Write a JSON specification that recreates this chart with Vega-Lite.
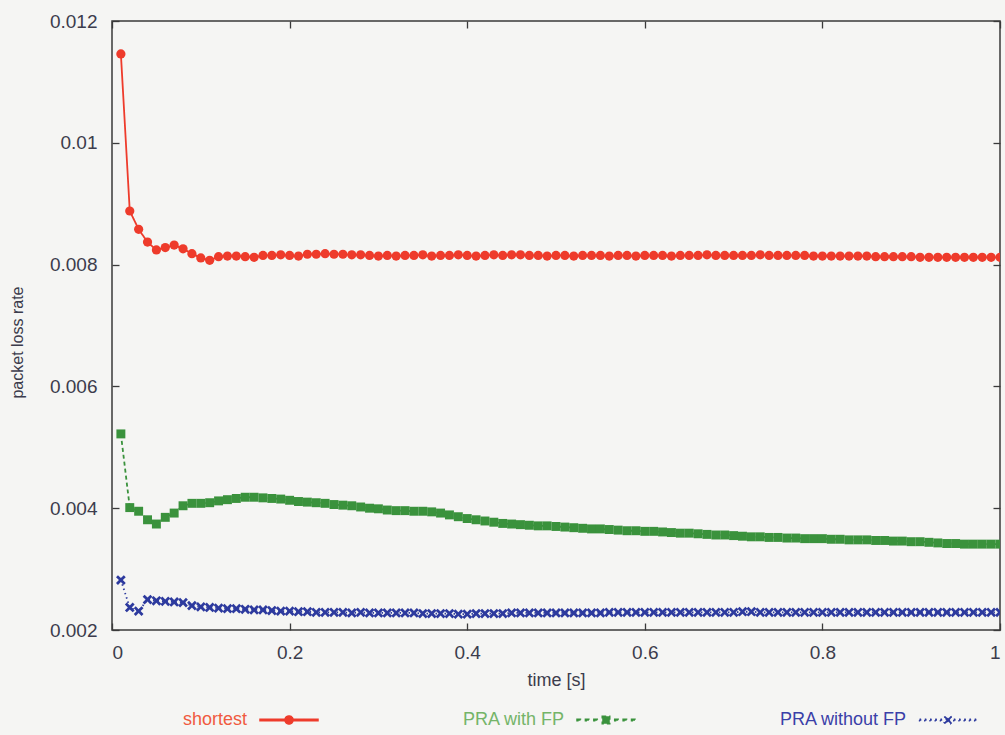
{
  "$schema": "https://vega.github.io/schema/vega-lite/v6.json",
  "width": 888,
  "height": 609,
  "autosize": {"type": "none"},
  "padding": {"left": 112, "top": 21, "right": 5, "bottom": 105},
  "background": "#f5f5f3",
  "config": {
    "view": {"stroke": "#3a3a3a", "strokeWidth": 1.5},
    "font": "Liberation Sans",
    "axis": {"grid": false, "domain": false, "tickColor": "#3a3a3a", "tickWidth": 1.3, "tickSize": -7, "labelColor": "#3c3c4c", "titleColor": "#3c3c4c", "labelFont": "Liberation Sans", "titleFont": "Liberation Sans", "titleFontWeight": "normal"}
  },
  "data": {
    "values": [
      {"t":0.01,"shortest":0.01146,"PRA with FP":0.00522,"PRA without FP":0.00282},
      {"t":0.02,"shortest":0.00888,"PRA with FP":0.00401,"PRA without FP":0.00237},
      {"t":0.03,"shortest":0.00858,"PRA with FP":0.00395,"PRA without FP":0.00231},
      {"t":0.04,"shortest":0.00837,"PRA with FP":0.00381,"PRA without FP":0.00250},
      {"t":0.05,"shortest":0.00824,"PRA with FP":0.00374,"PRA without FP":0.00248},
      {"t":0.06,"shortest":0.00828,"PRA with FP":0.00385,"PRA without FP":0.00247},
      {"t":0.07,"shortest":0.00832,"PRA with FP":0.00392,"PRA without FP":0.00246},
      {"t":0.08,"shortest":0.00826,"PRA with FP":0.00404,"PRA without FP":0.00245},
      {"t":0.09,"shortest":0.00818,"PRA with FP":0.00408,"PRA without FP":0.00240},
      {"t":0.10,"shortest":0.00811,"PRA with FP":0.00408,"PRA without FP":0.00238},
      {"t":0.11,"shortest":0.00807,"PRA with FP":0.00409,"PRA without FP":0.00237},
      {"t":0.12,"shortest":0.00813,"PRA with FP":0.00412,"PRA without FP":0.00236},
      {"t":0.13,"shortest":0.00814,"PRA with FP":0.00414,"PRA without FP":0.00235},
      {"t":0.14,"shortest":0.00814,"PRA with FP":0.00416,"PRA without FP":0.00235},
      {"t":0.15,"shortest":0.00813,"PRA with FP":0.00418,"PRA without FP":0.00234},
      {"t":0.16,"shortest":0.00812,"PRA with FP":0.00418,"PRA without FP":0.00233},
      {"t":0.17,"shortest":0.00815,"PRA with FP":0.00417,"PRA without FP":0.00233},
      {"t":0.18,"shortest":0.00815,"PRA with FP":0.00416,"PRA without FP":0.00232},
      {"t":0.19,"shortest":0.00816,"PRA with FP":0.00415,"PRA without FP":0.00231},
      {"t":0.20,"shortest":0.00815,"PRA with FP":0.00413,"PRA without FP":0.00231},
      {"t":0.21,"shortest":0.00814,"PRA with FP":0.00411,"PRA without FP":0.00230},
      {"t":0.22,"shortest":0.00817,"PRA with FP":0.00410,"PRA without FP":0.00230},
      {"t":0.23,"shortest":0.00817,"PRA with FP":0.00409,"PRA without FP":0.00229},
      {"t":0.24,"shortest":0.00818,"PRA with FP":0.00408,"PRA without FP":0.00229},
      {"t":0.25,"shortest":0.00817,"PRA with FP":0.00406,"PRA without FP":0.00229},
      {"t":0.26,"shortest":0.00817,"PRA with FP":0.00405,"PRA without FP":0.00229},
      {"t":0.27,"shortest":0.00816,"PRA with FP":0.00404,"PRA without FP":0.00228},
      {"t":0.28,"shortest":0.00816,"PRA with FP":0.00402,"PRA without FP":0.00229},
      {"t":0.29,"shortest":0.00815,"PRA with FP":0.00400,"PRA without FP":0.00228},
      {"t":0.30,"shortest":0.00814,"PRA with FP":0.00399,"PRA without FP":0.00228},
      {"t":0.31,"shortest":0.00815,"PRA with FP":0.00397,"PRA without FP":0.00228},
      {"t":0.32,"shortest":0.00814,"PRA with FP":0.00396,"PRA without FP":0.00228},
      {"t":0.33,"shortest":0.00815,"PRA with FP":0.00396,"PRA without FP":0.00228},
      {"t":0.34,"shortest":0.00815,"PRA with FP":0.00395,"PRA without FP":0.00228},
      {"t":0.35,"shortest":0.00816,"PRA with FP":0.00395,"PRA without FP":0.00227},
      {"t":0.36,"shortest":0.00814,"PRA with FP":0.00394,"PRA without FP":0.00227},
      {"t":0.37,"shortest":0.00815,"PRA with FP":0.00392,"PRA without FP":0.00227},
      {"t":0.38,"shortest":0.00815,"PRA with FP":0.00389,"PRA without FP":0.00227},
      {"t":0.39,"shortest":0.00816,"PRA with FP":0.00386,"PRA without FP":0.00226},
      {"t":0.40,"shortest":0.00815,"PRA with FP":0.00383,"PRA without FP":0.00226},
      {"t":0.41,"shortest":0.00814,"PRA with FP":0.00381,"PRA without FP":0.00227},
      {"t":0.42,"shortest":0.00815,"PRA with FP":0.00379,"PRA without FP":0.00227},
      {"t":0.43,"shortest":0.00816,"PRA with FP":0.00377,"PRA without FP":0.00227},
      {"t":0.44,"shortest":0.00815,"PRA with FP":0.00375,"PRA without FP":0.00227},
      {"t":0.45,"shortest":0.00816,"PRA with FP":0.00374,"PRA without FP":0.00228},
      {"t":0.46,"shortest":0.00816,"PRA with FP":0.00373,"PRA without FP":0.00228},
      {"t":0.47,"shortest":0.00815,"PRA with FP":0.00372,"PRA without FP":0.00228},
      {"t":0.48,"shortest":0.00815,"PRA with FP":0.00371,"PRA without FP":0.00228},
      {"t":0.49,"shortest":0.00814,"PRA with FP":0.00371,"PRA without FP":0.00228},
      {"t":0.50,"shortest":0.00815,"PRA with FP":0.00370,"PRA without FP":0.00228},
      {"t":0.51,"shortest":0.00815,"PRA with FP":0.00369,"PRA without FP":0.00228},
      {"t":0.52,"shortest":0.00814,"PRA with FP":0.00368,"PRA without FP":0.00228},
      {"t":0.53,"shortest":0.00815,"PRA with FP":0.00367,"PRA without FP":0.00228},
      {"t":0.54,"shortest":0.00815,"PRA with FP":0.00366,"PRA without FP":0.00228},
      {"t":0.55,"shortest":0.00815,"PRA with FP":0.00366,"PRA without FP":0.00228},
      {"t":0.56,"shortest":0.00814,"PRA with FP":0.00365,"PRA without FP":0.00229},
      {"t":0.57,"shortest":0.00815,"PRA with FP":0.00364,"PRA without FP":0.00229},
      {"t":0.58,"shortest":0.00815,"PRA with FP":0.00363,"PRA without FP":0.00229},
      {"t":0.59,"shortest":0.00814,"PRA with FP":0.00363,"PRA without FP":0.00229},
      {"t":0.60,"shortest":0.00815,"PRA with FP":0.00362,"PRA without FP":0.00229},
      {"t":0.61,"shortest":0.00815,"PRA with FP":0.00362,"PRA without FP":0.00229},
      {"t":0.62,"shortest":0.00815,"PRA with FP":0.00361,"PRA without FP":0.00229},
      {"t":0.63,"shortest":0.00814,"PRA with FP":0.00360,"PRA without FP":0.00229},
      {"t":0.64,"shortest":0.00815,"PRA with FP":0.00359,"PRA without FP":0.00229},
      {"t":0.65,"shortest":0.00815,"PRA with FP":0.00359,"PRA without FP":0.00229},
      {"t":0.66,"shortest":0.00815,"PRA with FP":0.00358,"PRA without FP":0.00229},
      {"t":0.67,"shortest":0.00816,"PRA with FP":0.00357,"PRA without FP":0.00229},
      {"t":0.68,"shortest":0.00815,"PRA with FP":0.00356,"PRA without FP":0.00229},
      {"t":0.69,"shortest":0.00815,"PRA with FP":0.00356,"PRA without FP":0.00229},
      {"t":0.70,"shortest":0.00815,"PRA with FP":0.00355,"PRA without FP":0.00229},
      {"t":0.71,"shortest":0.00815,"PRA with FP":0.00354,"PRA without FP":0.00230},
      {"t":0.72,"shortest":0.00815,"PRA with FP":0.00353,"PRA without FP":0.00230},
      {"t":0.73,"shortest":0.00816,"PRA with FP":0.00353,"PRA without FP":0.00229},
      {"t":0.74,"shortest":0.00815,"PRA with FP":0.00352,"PRA without FP":0.00229},
      {"t":0.75,"shortest":0.00815,"PRA with FP":0.00352,"PRA without FP":0.00229},
      {"t":0.76,"shortest":0.00815,"PRA with FP":0.00351,"PRA without FP":0.00229},
      {"t":0.77,"shortest":0.00815,"PRA with FP":0.00351,"PRA without FP":0.00229},
      {"t":0.78,"shortest":0.00815,"PRA with FP":0.00350,"PRA without FP":0.00229},
      {"t":0.79,"shortest":0.00814,"PRA with FP":0.00350,"PRA without FP":0.00229},
      {"t":0.80,"shortest":0.00814,"PRA with FP":0.00350,"PRA without FP":0.00229},
      {"t":0.81,"shortest":0.00814,"PRA with FP":0.00349,"PRA without FP":0.00229},
      {"t":0.82,"shortest":0.00814,"PRA with FP":0.00349,"PRA without FP":0.00229},
      {"t":0.83,"shortest":0.00814,"PRA with FP":0.00348,"PRA without FP":0.00229},
      {"t":0.84,"shortest":0.00814,"PRA with FP":0.00348,"PRA without FP":0.00229},
      {"t":0.85,"shortest":0.00814,"PRA with FP":0.00348,"PRA without FP":0.00229},
      {"t":0.86,"shortest":0.00813,"PRA with FP":0.00347,"PRA without FP":0.00229},
      {"t":0.87,"shortest":0.00813,"PRA with FP":0.00347,"PRA without FP":0.00229},
      {"t":0.88,"shortest":0.00813,"PRA with FP":0.00346,"PRA without FP":0.00229},
      {"t":0.89,"shortest":0.00813,"PRA with FP":0.00346,"PRA without FP":0.00229},
      {"t":0.90,"shortest":0.00813,"PRA with FP":0.00345,"PRA without FP":0.00229},
      {"t":0.91,"shortest":0.00812,"PRA with FP":0.00345,"PRA without FP":0.00229},
      {"t":0.92,"shortest":0.00812,"PRA with FP":0.00344,"PRA without FP":0.00229},
      {"t":0.93,"shortest":0.00812,"PRA with FP":0.00343,"PRA without FP":0.00229},
      {"t":0.94,"shortest":0.00812,"PRA with FP":0.00342,"PRA without FP":0.00229},
      {"t":0.95,"shortest":0.00812,"PRA with FP":0.00342,"PRA without FP":0.00229},
      {"t":0.96,"shortest":0.00812,"PRA with FP":0.00341,"PRA without FP":0.00229},
      {"t":0.97,"shortest":0.00812,"PRA with FP":0.00341,"PRA without FP":0.00229},
      {"t":0.98,"shortest":0.00812,"PRA with FP":0.00341,"PRA without FP":0.00229},
      {"t":0.99,"shortest":0.00812,"PRA with FP":0.00341,"PRA without FP":0.00229},
      {"t":1.00,"shortest":0.00812,"PRA with FP":0.00341,"PRA without FP":0.00229}
    ]
  },
  "transform": [
    {"fold": ["shortest", "PRA with FP", "PRA without FP"], "as": ["series", "rate"]}
  ],
  "layer": [
    {
      "mark": {"type": "line", "strokeWidth": 1.8, "clip": true},
      "encoding": {
        "x": {"field": "t", "type": "quantitative", "scale": {"domain": [0, 1]},
              "axis": {"orient": "bottom", "values": [0, 0.2, 0.4, 0.6, 0.8, 1], "format": ".1~f", "labelFontSize": 19, "labelPadding": 20, "title": "time [s]", "titleFontSize": 18, "titlePadding": 9}},
        "y": {"field": "rate", "type": "quantitative", "scale": {"domain": [0.002, 0.012]},
              "axis": {"orient": "left", "values": [0.002, 0.004, 0.006, 0.008, 0.01, 0.012], "format": ".3~f", "labelFontSize": 19, "labelPadding": 22, "title": "packet loss rate", "titleFontSize": 16, "titlePadding": 24, "titleY": 321}},
        "color": {"field": "series", "type": "nominal",
                  "scale": {"domain": ["shortest", "PRA with FP", "PRA without FP"], "range": ["#ee3b2b", "#3a923c", "#2d3a9e"]},
                  "legend": {
                    "orient": "none", "legendX": 147, "legendY": 669, "direction": "horizontal", "title": null,
                    "columnPadding": 140, "labelFontSize": 18, "labelFont": "Liberation Sans", "labelOffset": -72, "symbolSize": 3364, "labelLimit": 300,
                    "encode": {
                      "labels": {"update": {"align": {"value": "right"}, "fill": {"signal": "datum.value === 'shortest' ? '#f05a40' : datum.value === 'PRA with FP' ? '#74b468' : '#3a40a8'"}}},
                      "symbols": {"update": {
                        "shape": {"signal": "datum.value === 'shortest' ? 'M-1,-0.028H-0.14V0.028H-1ZM0.14,-0.028H1V0.028H0.14ZM-0.14,0A0.14,0.14,0,1,0,0.14,0A0.14,0.14,0,1,0,-0.14,0Z' : datum.value === 'PRA with FP' ? 'M-1,-0.028H-0.88V0.028H-1ZM-0.71,-0.028H-0.59V0.028H-0.71ZM-0.42,-0.028H-0.3V0.028H-0.42ZM0.3,-0.028H0.42V0.028H0.3ZM0.59,-0.028H0.71V0.028H0.59ZM0.88,-0.028H1V0.028H0.88ZM-0.13,-0.13H0.13V0.13H-0.13Z' : 'M-0.98,-0.028H-0.92V0.028H-0.98ZM-0.8,-0.028H-0.74V0.028H-0.8ZM-0.62,-0.028H-0.56V0.028H-0.62ZM-0.44,-0.028H-0.38V0.028H-0.44ZM-0.26,-0.028H-0.2V0.028H-0.26ZM0.2,-0.028H0.26V0.028H0.2ZM0.38,-0.028H0.44V0.028H0.38ZM0.56,-0.028H0.62V0.028H0.56ZM0.74,-0.028H0.8V0.028H0.74ZM0.92,-0.028H0.98V0.028H0.92ZM-0.13,-0.085L-0.085,-0.13L0,-0.045L0.085,-0.13L0.13,-0.085L0.045,0L0.13,0.085L0.085,0.13L0,0.045L-0.085,0.13L-0.13,0.085L-0.045,0Z'"},
                        "fill": {"signal": "datum.value === 'shortest' ? '#ee3b2b' : datum.value === 'PRA with FP' ? '#3a923c' : '#2d3a9e'"},
                        "stroke": {"value": "transparent"},
                        "strokeDash": {"value": []},
                        "size": {"value": 3364},
                        "opacity": {"value": 1}
                      }}
                    }
                  }},
        "strokeDash": {"field": "series", "type": "nominal",
                       "scale": {"domain": ["shortest", "PRA with FP", "PRA without FP"], "range": [[1, 0], [4, 3], [1.5, 3]]},
                       "legend": null}
      }
    },
    {
      "mark": {"type": "point", "filled": true, "opacity": 1, "clip": true,
               "shape": {"expr": "datum.series === 'shortest' ? 'circle' : datum.series === 'PRA with FP' ? 'square' : 'M-1,-0.6L-0.6,-1L0,-0.4L0.6,-1L1,-0.6L0.4,0L1,0.6L0.6,1L0,0.4L-0.6,1L-1,0.6L-0.4,0Z'"},
               "size": {"expr": "datum.series === 'shortest' ? 85 : datum.series === 'PRA with FP' ? 80 : 95"}},
      "encoding": {
        "x": {"field": "t", "type": "quantitative", "scale": {"domain": [0, 1]},
              "axis": {"orient": "top", "values": [0, 0.2, 0.4, 0.6, 0.8, 1], "labels": false, "title": null}},
        "y": {"field": "rate", "type": "quantitative", "scale": {"domain": [0.002, 0.012]},
              "axis": {"orient": "right", "values": [0.002, 0.004, 0.006, 0.008, 0.01, 0.012], "labels": false, "title": null}},
        "color": {"field": "series", "type": "nominal", "legend": null}
      }
    }
  ],
  "resolve": {"axis": {"x": "independent", "y": "independent"}}
}
